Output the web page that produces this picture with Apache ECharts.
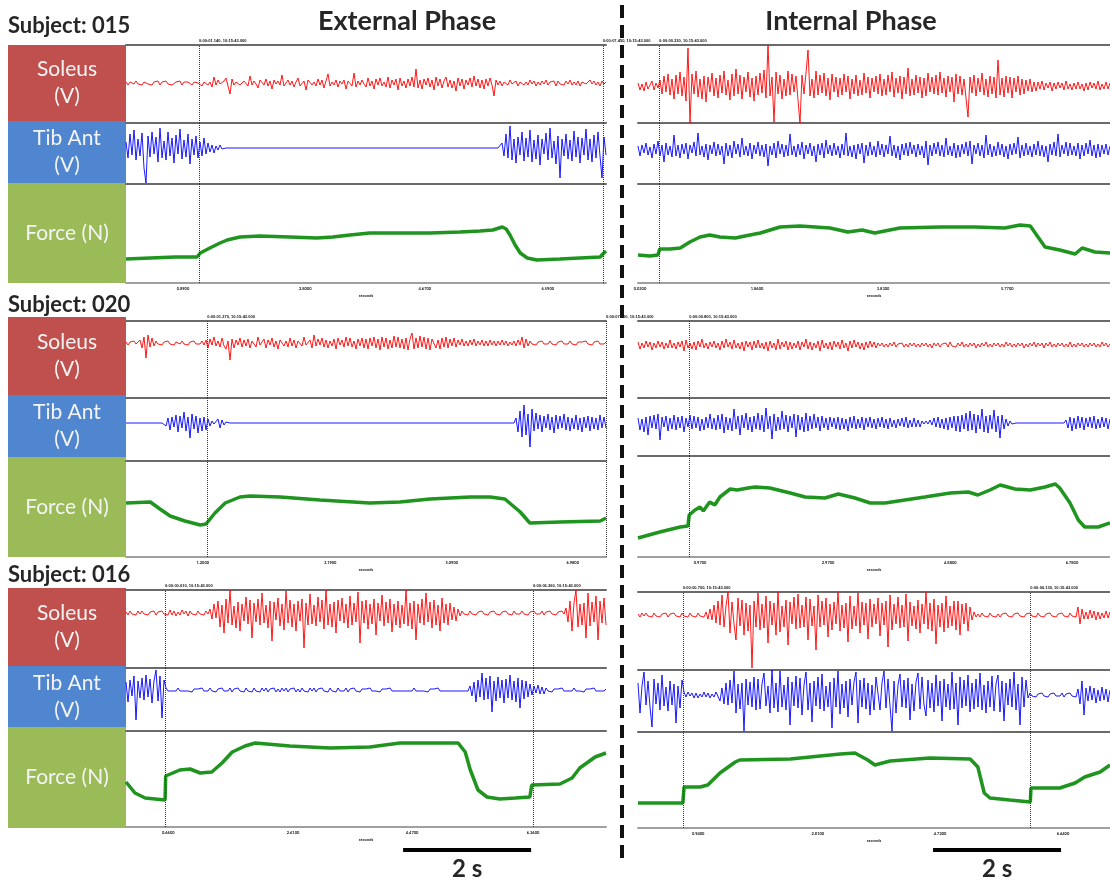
<!DOCTYPE html>
<html><head><meta charset="utf-8">
<script src="https://cdn.jsdelivr.net/npm/echarts@6/dist/echarts.min.js"></script>
<style>html,body{margin:0;padding:0;background:#fff}#c{width:1110px;height:880px}</style>
</head><body><div id="c"></div><script>
// ---------- DATA ----------
const subjects = ['015', '020', '016'];
const phases = ['External Phase', 'Internal Phase'];
const channelLabels = ['Soleus\n(V)', 'Tib Ant\n(V)', 'Force (N)'];
const scaleBarStart = [4.33, 4.61]; // s, external / internal
const scaleBarLength = 2; // s
const scaleBarLabel = '2 s';

// Subject 015 – external (EMG samples evenly spaced over the 7.5 s window)
const s015ExtSoleus = [
1,-2,1,0,-1,2,-1,1,-2,1,2,-1,0,-2,1,-1,2,-2,1,-1,
2,-1,1,-2,0,1,-1,2,-2,1,-1,1,2,-2,1,-1,0,2,-3,1,
3,-2,1,-4,6,-2,3,-1,-3,2,5,-3,-11,4,-2,1,3,-2,-4,2,
1,-3,7,-2,2,-1,-5,3,1,-2,4,-3,2,-6,3,-1,2,-2,8,-3,
-1,3,-2,2,-4,1,5,-3,-1,2,-7,3,2,-2,1,-3,4,-2,3,-5,
2,9,-3,1,-2,3,-4,2,-1,3,-6,2,1,-3,10,-4,2,-2,3,-1,
-4,5,-3,2,-6,4,-2,5,-3,1,-4,6,-5,3,-2,4,-7,5,-3,2,
-5,4,-3,6,-4,14,-5,3,-6,4,-2,5,-4,3,-7,6,-3,4,-5,2,
6,-4,3,-5,2,-8,5,-3,4,-6,3,-2,5,-4,7,-3,4,-5,3,-6,
4,-3,5,-2,-13,3,-2,2,-3,1,2,-2,3,-1,-2,2,-3,1,2,-2,
1,-2,3,-1,2,-3,1,-2,2,-1,3,-2,1,-1,2,-3,2,-1,1,-2,
2,-1,3,-2,1,-2,2,-3,1,2,-1,-2,3,-1,2,-2,1,-3,2,-1, 1];
const s015ExtTibAnt = [
6,-10,14,-7,18,-12,9,-8,15,-20,-35,12,-9,16,-6,11,-14,20,-10,7,
-12,16,-8,10,-15,13,-6,19,-11,8,-9,14,-16,9,-7,12,-10,6,-8,10,
-6,5,-4,3,-5,2,-2,3,-1,1,0,0,0,0,0,0,0,0,0,0,
0,0,0,0,0,0,0,0,0,0,0,0,0,0,0,0,0,0,0,0,
0,0,0,0,0,0,0,0,0,0,0,0,0,0,0,0,0,0,0,0,
0,0,0,0,0,0,0,0,0,0,0,0,0,0,0,0,0,0,0,0,
0,0,0,0,0,0,0,0,0,0,0,0,0,0,0,0,0,0,0,0,
0,0,0,0,0,0,0,0,0,0,0,0,0,0,0,0,0,0,0,0,
0,0,0,0,0,0,0,0,0,0,0,0,0,0,0,0,0,0,0,0,
0,0,0,0,0,0,0,0,5,-8,14,-10,22,-12,9,-15,11,-7,16,-13,
10,-9,18,-14,8,-11,13,-17,9,-6,15,-12,20,-10,7,-16,12,-30,9,-8,
14,-11,8,-13,17,-9,11,-15,10,-7,19,-12,9,-14,13,-10,16,-8,-30,11, -7];
const s015ExtForce = [[0,24],[0.38,25],[0.77,26],[1.11,26],[1.16,30],[1.31,35],[1.47,40],[1.58,43],[1.78,46],[2.09,47],[2.56,46],[2.98,45],[3.23,46],[3.5,48],[3.81,50],[4.28,50],[4.75,50],[5.22,51],[5.53,52],[5.73,53],[5.88,56],[5.94,54],[6.0,48],[6.08,38],[6.16,30],[6.27,25],[6.42,23],[6.78,24],[7.09,25],[7.41,26],[7.45,29],[7.5,32]];
const s015ExtMarkers = [1.14, 7.45];
const s015ExtTicks = [0.89, 2.80, 4.67, 6.59];

// Subject 015 – internal (7.375 s window)
const s015IntSoleus = [
3,-4,2,-5,4,-3,1,5,-4,3,-2,6,-8,10,-6,12,-9,7,-13,11,
-8,14,-10,9,-15,38,-37,12,-8,15,-11,7,-13,10,-16,9,-6,13,-10,8,
-12,11,-7,15,-9,6,-14,12,-10,17,-8,11,-13,9,-6,14,-11,8,-15,10,
-9,13,-7,16,-12,41,-10,9,-36,14,-8,11,-13,7,-10,15,-9,12,-6,10,
-14,-37,11,-8,13,36,-10,7,-12,15,-9,11,-7,13,-10,8,-14,12,-6,9,
-11,8,-9,12,-6,10,-13,7,-8,11,-10,6,-9,13,-7,9,-12,8,-6,10,
-8,12,-10,7,-9,11,-6,14,-11,8,-7,10,-13,9,-8,18,-10,7,-9,11,
-7,9,-12,8,-10,13,-6,9,-8,11,-9,14,-7,8,-11,10,-6,9,-16,12,
-8,10,-9,7,-12,-31,9,-7,11,-10,8,-6,13,-9,7,-11,10,-8,9,-12,
26,-9,8,-11,10,-7,9,-12,8,-6,10,-9,7,-8,6,-5,7,-6,4,-5,
4,-3,5,-4,3,-2,4,-5,3,-3,4,-2,3,-4,5,-3,2,-4,3,-3,
4,-3,2,-5,3,-4,4,-2,3,-3,5,-4,2,-3,4,-3,3];
const s015IntTibAnt = [
4,-6,5,-3,7,-5,3,-8,6,-4,9,-6,5,-12,7,-5,4,-7,15,-6,
5,-8,6,-4,7,-9,5,-3,8,-6,17,-5,4,-7,6,-10,5,-4,8,-6,
6,-5,4,-14,7,-6,5,-8,9,-4,6,-7,12,-5,4,-6,7,-9,5,-4,
8,-6,5,-7,6,-16,4,-5,7,-8,9,-4,6,-7,5,-6,16,-5,4,-7,
6,-5,8,-9,5,-4,7,-6,4,-12,6,-5,7,-8,10,-4,5,-6,7,-5,
4,-8,6,-5,17,-6,4,-7,5,-9,6,-4,7,-13,5,-6,8,-5,4,-7,
9,-5,6,-7,5,-4,14,-6,5,-8,4,-10,6,-5,7,-6,8,-4,5,-7,
6,-5,4,-8,9,-15,5,-6,7,-4,8,-6,5,-7,12,-5,4,-6,7,-8,
5,-7,6,-4,8,-6,9,-14,5,-4,7,-6,5,-8,15,-5,6,-7,4,-6,
8,-5,6,-7,4,-9,6,-5,7,-4,13,-8,5,-6,7,-5,4,-7,6,-5,
9,-6,5,-7,4,-12,6,-5,8,-6,16,-7,5,-4,8,-6,7,-5,4,-6,
7,-9,5,-6,7,-4,10,-6,5,-8,6,-7,5,-4,6,-5,4];
const s015IntForce = [[0,28],[0.19,27],[0.31,28],[0.34,34],[0.5,34],[0.66,35],[0.81,41],[0.97,46],[1.12,48],[1.28,46],[1.52,45],[1.67,47],[1.91,50],[2.22,56],[2.53,57],[2.77,56],[3.0,55],[3.28,51],[3.5,53],[3.7,50],[4.09,55],[4.72,56],[5.27,56],[5.73,55],[5.97,58],[6.13,57],[6.25,46],[6.36,36],[6.59,33],[6.83,29],[6.94,35],[7.14,31],[7.375,30]];
const s015IntMarkers = [0.33];
const s015IntTicks = [0.03, 1.86, 3.83, 5.77];

// Subject 020 – external
const s020ExtSoleus = [
1,-2,1,-1,2,-1,1,3,-5,6,-15,8,-4,5,-3,2,-1,1,-2,1,
-1,2,-1,1,-2,1,0,-1,2,-1,1,-2,1,-1,2,-1,1,-1,2,-2,
3,-5,4,-2,6,-3,2,-4,5,-3,-6,2,-17,4,-5,3,-2,5,-4,3,
-3,4,-5,2,3,-4,6,-2,-3,4,-5,3,-2,5,-4,2,-6,3,4,-3,
2,-4,5,-3,3,-5,2,4,-3,6,-2,-4,3,-5,8,-3,4,-2,5,-4,
3,-5,2,-3,4,-6,5,-2,3,-4,6,-3,5,-4,2,-6,4,-3,5,-5,
4,-6,5,-3,6,-5,4,-7,6,-4,5,-6,3,-5,7,-4,6,-5,4,-6,
5,-7,4,10,-6,5,-5,7,-4,6,-6,5,-7,4,6,-5,3,-6,5,-4,
6,-5,4,-3,5,-4,3,-2,4,-3,2,-3,3,-2,4,-3,2,-2,3,-3,
2,-3,3,-2,2,-3,2,-2,3,-2,2,-3,1,-2,2,-3,3,-2,6,-5,
4,-3,2,-1,1,-2,1,-1,2,-1,1,-1,2,-1,1,-2,1,-1,2,-1,
1,-1,2,-1,1,-2,1,-1,1,-1,2,-1,1,-2,1,-1,2,-1,1,-1, 1];
const s020ExtTibAnt = [
0,0,0,0,0,0,0,0,0,0,0,0,0,0,0,0,0,0,0,1,
-3,5,-7,6,-4,8,-9,7,-5,11,-8,6,-15,9,-6,7,-10,5,-8,6,
-7,4,-3,2,-1,1,4,-5,3,-2,1,0,0,0,0,0,0,0,0,0,
0,0,0,0,0,0,0,0,0,0,0,0,0,0,0,0,0,0,0,0,
0,0,0,0,0,0,0,0,0,0,0,0,0,0,0,0,0,0,0,0,
0,0,0,0,0,0,0,0,0,0,0,0,0,0,0,0,0,0,0,0,
0,0,0,0,0,0,0,0,0,0,0,0,0,0,0,0,0,0,0,0,
0,0,0,0,0,0,0,0,0,0,0,0,0,0,0,0,0,0,0,0,
0,0,0,0,0,0,0,0,0,0,0,0,0,0,0,0,0,0,0,0,
0,0,0,0,0,0,0,0,0,0,0,0,0,0,0,5,-9,12,-14,18,
-12,9,-24,14,-8,10,-6,8,-9,7,-5,9,-7,6,-10,8,-6,7,-5,9,
-7,6,-8,5,-6,8,-7,5,-9,6,-5,7,-8,6,-6,5,-7,8,-5,6, -5];
const s020ExtForce = [[0,54],[0.38,55],[0.53,48],[0.69,41],[0.92,36],[1.16,32],[1.25,33],[1.39,44],[1.55,54],[1.78,60],[1.94,61],[2.41,60],[3.03,57],[3.81,54],[4.28,55],[4.75,58],[5.38,60],[5.69,60],[5.92,58],[6.16,45],[6.31,34],[6.78,35],[7.41,36],[7.5,39]];
const s020ExtMarkers = [1.27, 7.5];
const s020ExtTicks = [1.20, 3.19, 5.09, 6.98];

// Subject 020 – internal
const s020IntSoleus = [
3,-4,2,-3,4,-2,3,-5,2,-3,4,-2,3,-4,2,-3,5,-3,2,-4,
3,-2,4,-6,5,-3,2,-4,3,-5,4,-2,6,-3,2,-4,3,-2,4,-3,
2,-5,4,-3,6,-2,3,-4,5,-3,2,-4,3,-6,4,-2,3,-5,4,-3,
5,-3,2,-4,3,-6,4,-3,2,-5,6,-4,3,-2,4,-5,3,-4,2,-3,
4,-5,3,-2,6,-4,3,-5,2,-3,4,-6,5,-3,2,-4,3,-5,4,-2,
3,-4,5,-3,2,-6,4,-3,5,-2,3,-4,2,-5,3,-3,4,-2,3,-3,
2,-1,2,-2,1,-2,2,-1,3,-2,1,-1,2,-2,1,-2,2,-1,2,-2,
1,-2,2,-1,2,-2,1,-3,2,-1,2,-2,1,-1,2,-2,3,-1,1,-2,
2,-1,3,-2,1,-2,2,-1,2,-3,1,-2,2,-1,3,-2,1,-2,2,-1,
2,-2,1,-2,3,-1,2,-2,1,-2,2,-1,2,-3,1,-2,2,-1,3,-2,
2,-1,2,-3,2,-1,3,-2,1,-2,2,-1,2,-2,1,-2,3,-2,1,-2,
2,-1,2,-2,1,-2,2,-1,2,-2,1,-2,3,-1,2,-2,1];
const s020IntTibAnt = [
5,-7,4,-9,6,-12,7,-5,8,-6,9,-17,6,-4,7,-8,5,-6,8,-7,
6,-5,7,-9,5,-4,8,-6,7,-5,6,-8,4,-7,6,-5,9,-6,5,-7,
8,-6,9,-10,6,-7,5,-8,14,-6,7,-12,8,-5,10,-7,6,-9,7,-6,
10,-7,8,-9,15,-6,7,-16,9,-8,6,-7,12,-6,8,-9,7,-5,9,-14,
8,-7,6,-9,10,-8,7,-6,9,-5,6,-8,7,-5,5,-7,6,-4,5,-6,
6,-7,5,-6,4,-8,6,-5,7,-6,4,-5,6,-7,5,-4,6,-5,4,-6,
5,-4,6,-5,4,-6,5,-4,3,-5,4,-3,5,-4,6,-5,3,-4,5,-4,
3,-4,2,-1,2,-1,3,-2,5,-4,6,-5,4,-6,5,-7,6,-5,7,-8,
7,-9,8,-6,10,-8,12,-7,9,-10,8,-6,14,-9,7,-10,8,-6,13,-9,
7,-15,8,-6,4,-3,2,-1,1,0,0,0,0,0,0,0,0,0,0,0,
0,0,0,0,0,0,0,0,0,0,0,0,0,0,3,-5,6,-8,5,-6,
7,-5,6,-7,5,-4,6,-5,7,-6,4,-5,6,-4,5,-6,4];
const s020IntForce = [[0,19],[0.34,25],[0.66,30],[0.78,31],[0.8,42],[0.89,47],[0.97,50],[1.02,46],[1.12,55],[1.2,52],[1.28,60],[1.44,68],[1.55,67],[1.72,69],[1.83,70],[2.06,69],[2.38,64],[2.61,60],[2.92,59],[3.13,63],[3.39,59],[3.63,54],[3.86,54],[4.17,57],[4.48,60],[4.88,64],[5.16,65],[5.31,62],[5.5,67],[5.66,72],[5.89,68],[6.13,67],[6.36,70],[6.52,73],[6.59,69],[6.75,54],[6.88,37],[6.98,30],[7.19,30],[7.375,34]];
const s020IntMarkers = [0.80];
const s020IntTicks = [0.97, 2.97, 4.88, 6.78];

// Subject 016 – external
const s016ExtSoleus = [
1,-2,2,-1,1,-2,2,-1,2,-1,1,-2,1,-1,2,-2,1,-1,2,-1,
1,-2,3,-2,2,-3,1,-2,3,-1,2,-3,2,-1,1,-2,2,-1,1,-2,
2,-1,4,-6,9,-5,12,-14,8,-20,14,-10,23,-12,7,-15,11,-18,9,-8,
16,-11,13,-25,10,-9,14,-12,20,-10,8,-15,12,-28,11,-7,15,-13,9,-17,
22,-10,13,-14,9,-18,12,-8,14,-35,10,-12,19,-11,8,-13,16,-9,13,-16,
23,-12,9,-14,11,-20,13,-8,15,-10,9,-15,17,-12,10,-9,21,-30,12,-10,
13,-16,9,-11,14,-22,10,-8,18,-13,11,-10,14,-19,9,-12,12,-15,8,-11,
23,-13,10,-16,12,-27,9,-10,14,-12,20,-9,11,-15,13,-12,8,-18,15,-10,
9,-12,10,-7,6,-8,4,-3,2,-1,1,-2,2,-1,1,-2,1,-1,2,-1,
1,-2,1,-1,2,-1,1,-2,1,-1,2,-1,1,-2,2,-1,1,-1,2,-1,
1,-2,1,-1,2,-1,1,-1,2,-2,1,-1,2,-1,1,-2,1,-1,2,-1,
5,-9,12,-18,10,23,-14,9,-12,10,-25,20,-13,11,-9,17,-27,12,-10,15, -12];
const s016ExtTibAnt = [
8,-12,10,-6,14,-30,9,-8,12,-10,15,-7,11,-13,9,20,-11,14,-28,10,
2,-1,1,-1,1,-1,2,-1,1,-1,1,-1,1,-2,1,-1,1,-1,2,-1,
1,-1,2,-1,1,-2,1,-1,2,-1,1,-1,2,-2,1,-1,2,-1,1,-2,
2,-1,1,-2,2,-1,1,-2,2,-1,2,-2,1,-1,2,-2,1,-2,2,-1,
2,-2,1,-1,2,-2,1,-2,2,-1,1,-2,2,-1,2,-2,1,-1,2,-1,
1,-2,2,-1,1,-2,2,-1,1,-1,2,-2,1,-1,2,-1,1,-2,1,-1,
1,-1,2,-1,1,-1,1,-2,1,-1,1,-1,2,-1,1,-1,1,-1,1,-1,
1,-1,1,-1,2,-1,1,-1,1,-1,1,-2,1,-1,1,-1,2,-1,1,-1,
1,-1,1,-1,1,-1,1,-1,1,-1,1,-1,4,-6,8,-12,10,-7,17,-10,
12,-9,14,-22,9,-11,13,-8,10,-13,11,-8,15,-10,9,-12,12,-18,10,-9,
9,-7,6,-5,4,-3,5,-4,3,-4,2,-1,1,-2,1,-1,1,-1,2,-1,
1,-1,1,-1,2,-1,1,-1,1,-2,1,-1,1,-1,2,-1,1,-1,1,-1, 1];
const s016ExtForce = [[0,45],[0.14,34],[0.3,29],[0.61,27],[0.62,51],[0.84,57],[1.0,58],[1.16,54],[1.34,55],[1.5,64],[1.66,75],[1.86,81],[2.02,84],[2.56,81],[3.19,79],[3.81,80],[4.28,84],[4.75,84],[5.19,84],[5.3,75],[5.38,57],[5.5,37],[5.64,30],[5.84,28],[6.08,29],[6.31,30],[6.34,42],[6.78,43],[6.97,49],[7.09,59],[7.33,70],[7.5,74]];
const s016ExtMarkers = [0.61, 6.36];
const s016ExtTicks = [0.66, 2.61, 4.47, 6.36];

// Subject 016 – internal
const s016IntSoleus = [
1,-2,2,-1,2,-1,1,-2,2,-1,1,-2,1,-1,2,-2,1,-1,2,-1,
1,-2,2,-1,1,-2,2,-1,1,-2,2,-1,1,-2,3,-4,6,-5,10,-8,
14,-10,20,-12,9,23,-18,13,-9,-25,17,-11,15,-20,12,-16,10,-53,14,-12,
22,-15,11,-13,19,-28,14,-10,12,-20,23,-17,9,-12,15,-30,13,-9,18,-14,
21,-13,10,-12,18,-25,16,-11,9,-35,20,-12,14,-10,17,-22,11,-15,13,-9,
23,-16,10,-13,12,-27,19,-14,9,-11,22,-18,13,-10,12,-24,16,-12,11,-9,
17,-21,12,-10,14,-32,20,-15,11,-9,18,-13,10,-12,21,-26,13,-11,9,-14,
15,-18,11,-9,23,-14,12,-16,16,-29,10,-12,12,-17,19,-13,9,-11,14,-15,
14,-20,11,-9,12,-16,8,-5,3,-2,1,-2,2,-1,1,-2,2,-1,1,-2,
1,-2,1,-1,2,-1,1,-2,1,-1,2,-1,1,-2,1,-1,2,-1,1,-2,
2,-1,1,-2,1,-1,2,-1,1,-2,1,-1,2,-1,1,-2,2,-1,1,-2,
8,-9,6,-4,3,-4,5,-3,4,-5,3,-4,2,-3,4,-3,3];
const s016IntTibAnt = [
12,-18,9,23,-10,14,-12,-32,16,-9,12,-15,20,-11,8,-16,14,-10,11,-28,
9,-13,15,3,-2,3,-1,2,-3,2,-3,1,-2,3,-2,2,-3,1,-2,3,
4,-6,7,-9,12,-10,15,-8,24,-18,11,-14,12,-36,16,-10,13,-12,18,-15,
16,-14,11,22,-11,9,-18,25,-13,12,-17,24,-12,10,-15,18,-30,13,-11,19,
-13,17,-20,10,23,-15,12,-27,14,-11,18,-14,21,-16,9,-12,13,-33,17,-12,
24,-19,11,-13,14,-22,16,-10,13,23,-28,15,-12,17,-14,12,-20,10,-15,18,
19,-15,12,24,-13,16,-11,-36,14,-18,10,21,-12,15,-13,17,-25,11,-16,13,
22,-14,18,-10,-21,15,-13,12,-17,20,-11,14,-26,16,-12,11,-15,23,-14,12,
-30,18,-13,15,-11,20,-17,12,-14,16,-12,22,-15,10,-18,14,-12,19,-16,11,
20,-17,14,-26,12,-10,16,-12,23,-15,11,-30,18,-12,15,-3,2,-1,1,-2,
1,-1,2,-1,1,-2,1,-1,2,-1,1,-1,2,-2,1,-1,2,-1,1,-2,
6,-9,14,-20,7,-6,9,-5,7,-8,5,-6,8,-5,6,-7,5];
const s016IntForce = [[0,25],[0.7,25],[0.72,41],[0.97,41],[1.09,43],[1.28,55],[1.52,66],[1.59,68],[2.38,69],[2.69,71],[3.16,74],[3.39,75],[3.59,68],[3.7,63],[3.94,67],[4.56,70],[5.19,69],[5.31,61],[5.41,35],[5.5,30],[5.81,28],[6.13,26],[6.14,40],[6.59,40],[6.83,45],[6.98,51],[7.22,56],[7.375,63]];
const s016IntMarkers = [0.70, 6.13];
const s016IntTicks = [0.94, 2.81, 4.72, 6.64];

// ---------- LAYOUT ----------
const PANELS = { ext: { left: 126, width: 480, dur: 7.5 }, int: { left: 638, width: 472, dur: 7.375 } };
const layout = [
  { titleY: 26, boxes: [45, 121, 183, 283],
    ext: { rows: [45, 123, 184, 283], sol: [-40, 38], tib: [-36, 25] },
    int: { rows: [45, 123, 184, 283], sol: [-37, 41], tib: [-34, 27] } },
  { titleY: 305, boxes: [317, 395, 457, 557],
    ext: { rows: [321, 398, 461, 557], sol: [-55, 22], tib: [-38, 25] },
    int: { rows: [321, 398, 456, 557], sol: [-53, 24], tib: [-33, 25] } },
  { titleY: 575, boxes: [588, 666, 727, 828],
    ext: { rows: [590, 668, 731, 827], sol: [-55, 23], tib: [-41, 22] },
    int: { rows: [592, 670, 732, 828], sol: [-55, 23], tib: [-37, 25] } }
];
const traces = [
  { ext: { sol: s015ExtSoleus, tib: s015ExtTibAnt, force: s015ExtForce, markers: s015ExtMarkers, ticks: s015ExtTicks },
    int: { sol: s015IntSoleus, tib: s015IntTibAnt, force: s015IntForce, markers: s015IntMarkers, ticks: s015IntTicks } },
  { ext: { sol: s020ExtSoleus, tib: s020ExtTibAnt, force: s020ExtForce, markers: s020ExtMarkers, ticks: s020ExtTicks },
    int: { sol: s020IntSoleus, tib: s020IntTibAnt, force: s020IntForce, markers: s020IntMarkers, ticks: s020IntTicks } },
  { ext: { sol: s016ExtSoleus, tib: s016ExtTibAnt, force: s016ExtForce, markers: s016ExtMarkers, ticks: s016ExtTicks },
    int: { sol: s016IntSoleus, tib: s016IntTibAnt, force: s016IntForce, markers: s016IntMarkers, ticks: s016IntTicks } }
];
const TRACE_COLORS = ['#ff0000', '#0000ff', '#1f951f'];
const BOX_COLORS = ['#c0504d', '#4f86cf', '#9bbb59'];
const FONT = 'Lato, "Open Sans", "DejaVu Sans", sans-serif';

const grid = [], xAxis = [], yAxis = [], series = [], graphic = [];
const firstX = {};
layout.forEach((L, si) => {
  ['ext', 'int'].forEach(side => {
    const P = PANELS[side], R = L[side], T = traces[si][side];
    const rowData = [T.sol, T.tib, T.force];
    for (let r = 0; r < 3; r++) {
      const gi = grid.length;
      grid.push({ left: P.left, width: P.width, top: R.rows[r], height: R.rows[r + 1] - R.rows[r] });
      const xi = xAxis.length;
      if (firstX[side] === undefined) firstX[side] = xi;
      xAxis.push({ type: 'value', gridIndex: gi, min: 0, max: P.dur, position: 'top',
        axisLine: { show: true, onZero: false, lineStyle: { color: '#6a6a6a', width: 2 } },
        axisTick: { show: false }, axisLabel: { show: false }, splitLine: { show: false } });
      if (r === 2) {
        xAxis.push({ type: 'value', gridIndex: gi, min: 0, max: P.dur, position: 'bottom',
          axisLine: { show: true, onZero: false, lineStyle: { color: '#a0a0a0', width: 2 } },
          axisTick: { show: false }, splitLine: { show: false },
          axisLabel: { show: true, customValues: T.ticks, formatter: v => v.toFixed(4), fontSize: 4,
            fontWeight: 'bold', color: '#111', margin: 4, fontFamily: FONT },
          name: 'seconds', nameLocation: 'middle', nameGap: 11,
          nameTextStyle: { fontSize: 4, color: '#111', fontWeight: 'bold', fontFamily: FONT } });
      }
      const yi = yAxis.length;
      const yr = r === 0 ? R.sol : r === 1 ? R.tib : [0, R.rows[3] - R.rows[2]];
      yAxis.push({ type: 'value', gridIndex: gi, min: yr[0], max: yr[1], show: false });
      let data;
      if (r < 2) {
        const arr = rowData[r], step = P.dur / (arr.length - 1);
        data = arr.map((v, i) => [i * step, v]);
      } else data = rowData[r];
      series.push({ type: 'line', xAxisIndex: xi, yAxisIndex: yi, data, showSymbol: false, symbol: 'none',
        animation: false, silent: true,
        lineStyle: { color: TRACE_COLORS[r], width: r < 2 ? 1 : 3.5, opacity: r < 2 ? 0.9 : 1 },
        markLine: { silent: true, animation: false, symbol: ['none', 'none'],
          lineStyle: { type: 'dotted', color: '#333', width: 1 },
          label: { show: r === 0, position: 'end', formatter: p => '0:00:0' + p.value.toFixed(3) + ', 10:15:43.000',
            fontSize: 4, fontWeight: 'bold', color: '#111', align: 'left', distance: 2 },
          data: T.markers.map(t => ({ xAxis: t })) } });
    }
  });
  // label boxes
  const B = L.boxes;
  for (let r = 0; r < 3; r++) {
    graphic.push({ type: 'rect', id: `box${si}${r}`, shape: { x: 8, y: B[r], width: 118, height: B[r + 1] - B[r] },
      style: { fill: BOX_COLORS[r] }, silent: true });
    graphic.push({ type: 'text', id: `boxt${si}${r}`, x: 67, y: (B[r] + B[r + 1]) / 2,
      style: { text: channelLabels[r], fill: '#f4f4f4', font: `21px ${FONT}`, align: 'center', verticalAlign: 'middle', lineHeight: 27 }, silent: true });
  }
  graphic.push({ type: 'text', id: `subj${si}`, x: 8, y: L.titleY,
    style: { text: 'Subject: ' + subjects[si], fill: '#262626', font: `bold 22px ${FONT}`, verticalAlign: 'middle' }, silent: true });
});
graphic.push({ type: 'text', id: 'ph0', x: 407, y: 21, style: { text: phases[0], fill: '#262626', font: `bold 27px ${FONT}`, align: 'center', verticalAlign: 'middle' } });
graphic.push({ type: 'text', id: 'ph1', x: 851, y: 21, style: { text: phases[1], fill: '#262626', font: `bold 27px ${FONT}`, align: 'center', verticalAlign: 'middle' } });
graphic.push({ type: 'line', id: 'divider', shape: { x1: 622, y1: 5, x2: 622, y2: 862 },
  style: { stroke: '#111', lineWidth: 4, lineDash: [13, 7] } });

const chart = echarts.init(document.getElementById('c'), null, { renderer: 'canvas' });
chart.setOption({ animation: false, backgroundColor: '#fff', grid, xAxis, yAxis, series, graphic });

// scale bars placed through the axis scale
const extra = [];
['ext', 'int'].forEach((side, k) => {
  const xa = chart.convertToPixel({ xAxisIndex: firstX[side] }, scaleBarStart[k]);
  const xb = chart.convertToPixel({ xAxisIndex: firstX[side] }, scaleBarStart[k] + scaleBarLength);
  extra.push({ type: 'rect', id: 'bar' + k, shape: { x: xa, y: 848, width: xb - xa, height: 4 }, style: { fill: '#000' } });
  extra.push({ type: 'text', id: 'barT' + k, x: (xa + xb) / 2, y: 869,
    style: { text: scaleBarLabel, fill: '#262626', font: `bold 24px ${FONT}`, align: 'center', verticalAlign: 'middle' } });
});
chart.setOption({ graphic: extra });
</script></body></html>
